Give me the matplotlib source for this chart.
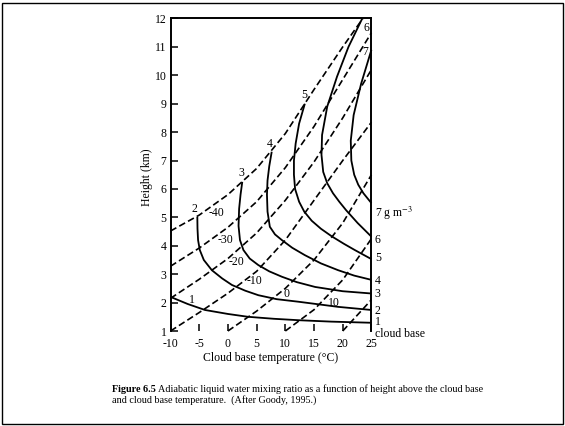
import matplotlib
matplotlib.use('Agg')
import matplotlib.pyplot as plt
from matplotlib.patches import Rectangle

plt.rcParams['font.family'] = ['Liberation Serif', 'DejaVu Serif']
plt.rcParams['mathtext.fontset'] = 'stix'

# Axis ticks
temp_ticks = [-10, -5, 0, 5, 10, 15, 20, 25]
temp_labels = ['-10', '-5', '0', '5', '10', '15', '20', '25']
height_ticks = [1, 2, 3, 4, 5, 6, 7, 8, 9, 10, 11, 12]

# Liquid water mixing ratio contours (solid)
lwc1_T = [-10, -7, -4, 0, 3.5, 8, 12.3, 18, 25]
lwc1_h = [2.2, 1.95, 1.74, 1.6, 1.5, 1.43, 1.38, 1.33, 1.29]
lwc2_T = [-5.33, -5.3, -5.2, -4.9, -4.2, -2.8, -1.0, 0.7, 3.0, 5.3, 8.5, 12.3, 19.2, 25]
lwc2_h = [5.02, 4.6, 4.2, 3.85, 3.5, 3.14, 2.85, 2.62, 2.42, 2.26, 2.12, 2.03, 1.85, 1.74]
lwc3_T = [2.5, 2.2, 1.95, 1.85, 2.1, 2.7, 3.8, 5.3, 7.2, 9.4, 12.0, 15.2, 20, 25]
lwc3_h = [6.25, 5.8, 5.3, 4.7, 4.2, 3.85, 3.55, 3.32, 3.1, 2.91, 2.72, 2.55, 2.4, 2.32]
lwc4_T = [7.63, 7.2, 6.9, 6.8, 6.9, 7.3, 8.2, 9.4, 11.2, 13.4, 16.2, 19.2, 22.0, 25]
lwc4_h = [7.31, 6.8, 6.3, 5.8, 5.2, 4.67, 4.4, 4.2, 3.93, 3.67, 3.38, 3.14, 2.95, 2.8]
lwc5_T = [13.4, 12.4, 11.8, 11.5, 11.5, 11.7, 12.4, 13.3, 14.6, 16.2, 18.1, 20.2, 22.1, 25]
lwc5_h = [9.0, 8.3, 7.6, 7.0, 6.5, 6.0, 5.55, 5.2, 4.88, 4.6, 4.33, 4.07, 3.85, 3.53]
lwc6_T = [23.4, 21.0, 19.0, 17.3, 16.4, 16.3, 16.6, 17.3, 18.3, 19.4, 20.6, 22.6, 25]
lwc6_h = [12.0, 11.0, 9.95, 8.9, 7.9, 7.2, 6.6, 6.2, 5.85, 5.55, 5.25, 4.8, 4.32]
lwc7_T = [25, 23.2, 21.9, 21.4, 21.5, 22.0, 22.7, 23.6, 25]
lwc7_h = [10.9, 9.7, 8.6, 7.7, 7.0, 6.5, 6.15, 5.85, 5.5]

# Isotherms (dashed)
iso_m40_T = [-10, -5, 0, 5, 10, 15, 20, 23.5]
iso_m40_h = [4.52, 5.08, 5.8, 6.72, 7.95, 9.5, 11.0, 12.0]
iso_m30_T = [-10, -5, 0, 5, 10, 15, 20, 25]
iso_m30_h = [3.28, 3.92, 4.65, 5.55, 6.75, 8.2, 9.85, 11.5]
iso_m20_T = [-10, -5, 0, 5, 10, 15, 20, 25]
iso_m20_h = [2.15, 2.82, 3.55, 4.45, 5.6, 6.95, 8.5, 10.2]
iso_m10_T = [-10, -5, 0, 5, 10, 15, 20, 25]
iso_m10_h = [1.0, 1.65, 2.33, 3.1, 4.2, 5.6, 7.0, 8.35]
iso_0_T = [0, 5, 10, 15, 20, 25]
iso_0_h = [1.0, 1.7, 2.5, 3.5, 4.8, 6.5]
iso_10_T = [10, 15, 20, 25]
iso_10_h = [1.0, 1.75, 2.8, 4.25]
iso_20_T = [20, 25]
iso_20_h = [1.0, 2.1]

lwc_curves = [(lwc1_T, lwc1_h), (lwc2_T, lwc2_h), (lwc3_T, lwc3_h), (lwc4_T, lwc4_h),
              (lwc5_T, lwc5_h), (lwc6_T, lwc6_h), (lwc7_T, lwc7_h)]
isotherms = [(iso_m40_T, iso_m40_h), (iso_m30_T, iso_m30_h), (iso_m20_T, iso_m20_h),
             (iso_m10_T, iso_m10_h), (iso_0_T, iso_0_h), (iso_10_T, iso_10_h),
             (iso_20_T, iso_20_h)]

# Labels
curve_top_labels = ['1', '2', '3', '4', '5', '6', '7']
curve_top_T = [-6.3, -5.85, 2.4, 7.2, 13.3, 24.2, 23.9]
curve_top_h = [2.09, 5.28, 6.57, 7.58, 9.3, 11.65, 10.83]
iso_labels = ['-40', '-30', '-20', '-10', '0', '10']
iso_label_T = [-1.95, -0.5, 1.5, 4.7, 10.2, 18.4]
iso_label_h = [5.16, 4.2, 3.44, 2.77, 2.3, 2.0]
right_labels = ['7 g m$^{-3}$', '6', '5', '4', '3', '2', '1', 'cloud base']
right_label_h = [5.15, 4.2, 3.57, 2.76, 2.3, 1.7, 1.33, 0.89]

fig = plt.figure(figsize=(5.65, 4.26), dpi=100)
ax = fig.add_axes([0.3018, 0.223, 0.3556, 0.7336])

for T, h in lwc_curves:
    ax.plot(T, h, color='black', lw=1.3, solid_capstyle='butt', clip_on=False)
for T, h in isotherms:
    ax.plot(T, h, color='black', lw=1.2, linestyle=(0, (4, 2)), clip_on=False)

for lab, T, h in zip(curve_top_labels, curve_top_T, curve_top_h):
    ax.text(T, h, lab, fontsize=8.5, ha='center', va='center')
for lab, T, h in zip(iso_labels, iso_label_T, iso_label_h):
    ax.text(T, h, lab, fontsize=8.5, ha='center', va='center')
for lab, h in zip(right_labels, right_label_h):
    ax.text(25.6, h, lab, fontsize=8.5, ha='left', va='center', clip_on=False)

ax.set_xlim(-10, 25)
ax.set_ylim(1, 12)
ax.set_xticks(temp_ticks)
ax.set_xticklabels(temp_labels)
ax.set_yticks(height_ticks)
ax.tick_params(direction='in', length=5, width=1.1, labelsize=8.5, colors='black')
ax.tick_params(axis='y', right=False, pad=3)
ax.tick_params(axis='x', top=False, pad=5)
ax.spines['bottom'].set_visible(False)
for s in ['left', 'top', 'right']:
    ax.spines[s].set_linewidth(1.4)

fig.text(0.26, 0.585, 'Height (km)', rotation=90, fontsize=8.5,
         ha='center', va='center')
fig.text(0.478, 0.16, 'Cloud base temperature (\u00b0C)', fontsize=8.5,
         ha='center', va='center')

# Caption: bold figure number followed by plain text
cap_bold = fig.text(0.198, 0.076, 'Figure 6.5', fontsize=7.3, fontweight='bold',
                    ha='left', va='bottom')
ax.annotate(' Adiabatic liquid water mixing ratio as a function of height above the cloud base',
            xy=(1, 0), xycoords=cap_bold, fontsize=7.3, ha='left', va='bottom',
            annotation_clip=False)
fig.text(0.198, 0.050, 'and cloud base temperature.  (After Goody, 1995.)',
         fontsize=7.3, ha='left', va='bottom')

# Outer frame
fig.patches.append(Rectangle((0.003, 0.005), 0.993, 0.988, transform=fig.transFigure,
                             fill=False, edgecolor='black', lw=1.0))

fig.savefig('out.png', dpi=100, facecolor='white')
